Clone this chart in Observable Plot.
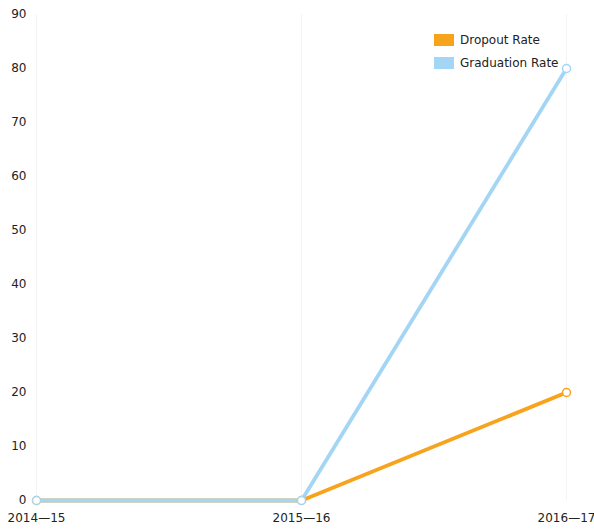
<!DOCTYPE html>
<html>
<head>
<meta charset="utf-8">
<script src="https://cdn.jsdelivr.net/npm/d3@7"></script>
<script src="https://cdn.jsdelivr.net/npm/@observablehq/plot@0.6"></script>
<style>
  body { margin: 0; background: #fff; }
  #wrap { position: relative; width: 594px; height: 529px; font-family: "DejaVu Sans", sans-serif; }
  .legend { position: absolute; left: 434px; top: 28px; font-size: 12px; color: #222; }
  .legend .row { display: flex; align-items: center; height: 23px; }
  .legend .sw { width: 20px; height: 12px; margin-right: 6px; }
</style>
</head>
<body>
<div id="wrap"></div>
<script>
const years = ["2014—15", "2015—16", "2016—17"];
const dropoutRate = [0, 0, 20];
const graduationRate = [0, 0, 80];
const seriesNames = ["Dropout Rate", "Graduation Rate"];
const seriesColors = ["#f8a31c", "#a3d5f5"];
const yTicks = [0, 10, 20, 30, 40, 50, 60, 70, 80, 90];

const data = [];
years.forEach((y, i) => {
  data.push({year: y, series: seriesNames[0], value: dropoutRate[i]});
  data.push({year: y, series: seriesNames[1], value: graduationRate[i]});
});

const chart = Plot.plot({
  width: 594,
  height: 529,
  marginLeft: 36,
  marginRight: 28,
  marginTop: 14,
  marginBottom: 29,
  style: {fontFamily: "DejaVu Sans, sans-serif", fontSize: "12px", color: "#222", background: "#fff"},
  x: {type: "point", domain: years, padding: 0, label: null, tickSize: 0, tickPadding: 13},
  y: {domain: [0, 90], ticks: yTicks, label: null, tickSize: 0, tickPadding: 10},
  color: {domain: seriesNames, range: seriesColors},
  marks: [
    Plot.gridX(years, {stroke: "#f4f4f4", strokeOpacity: 1}),
    Plot.line(data, {x: "year", y: "value", z: "series", stroke: "series", strokeWidth: 3.8}),
    Plot.dot(data, {x: "year", y: "value", stroke: "series", fill: "#fff", r: 4, strokeWidth: 1.5})
  ]
});

const wrap = document.getElementById("wrap");
wrap.appendChild(chart);
const legend = document.createElement("div");
legend.className = "legend";
seriesNames.forEach((n, i) => {
  const row = document.createElement("div");
  row.className = "row";
  const sw = document.createElement("span");
  sw.className = "sw";
  sw.style.background = seriesColors[i];
  const t = document.createElement("span");
  t.textContent = n;
  row.appendChild(sw);
  row.appendChild(t);
  legend.appendChild(row);
});
wrap.appendChild(legend);
</script>
</body>
</html>
